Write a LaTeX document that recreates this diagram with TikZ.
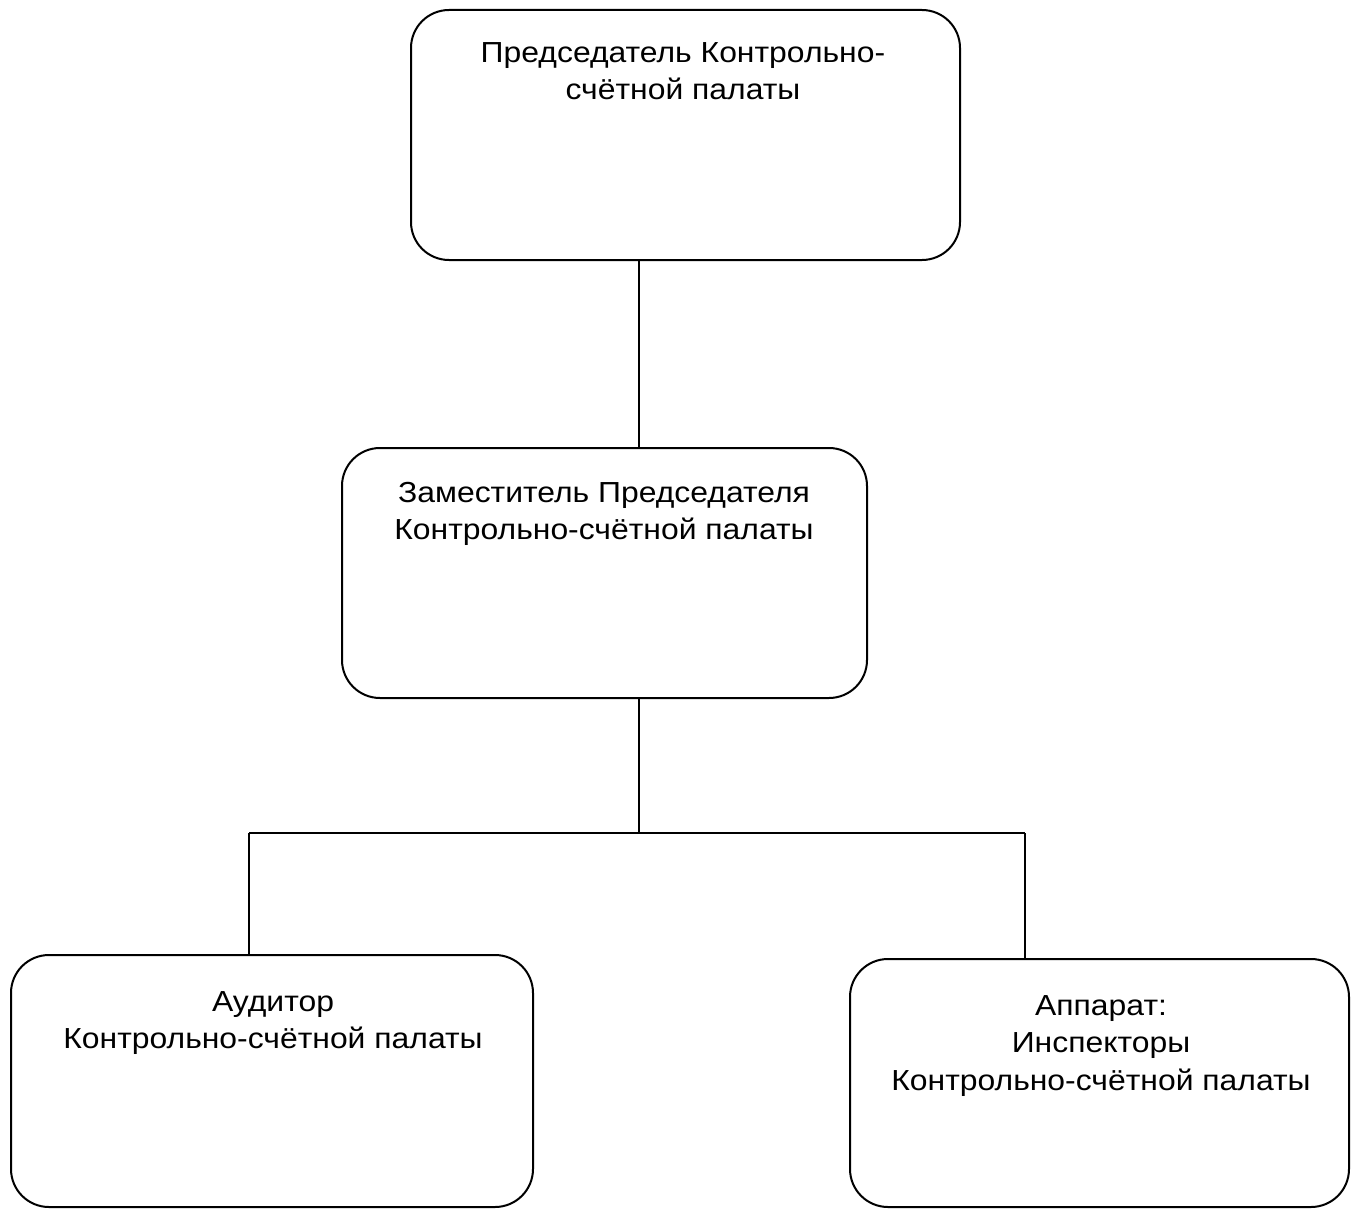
\documentclass[tikz,border=0pt]{standalone}
\usepackage{fontspec}
\setmainfont[FakeStretch=1.1]{Liberation Sans}
\begin{document}
\begin{tikzpicture}[x=1pt,y=-1pt,
  box/.style={draw=black, line width=2pt, rounded corners=38pt, rectangle, inner sep=0pt},
  txt/.style={align=center, inner sep=0pt, anchor=north, font=\fontsize{29}{37.5}\selectfont},
  conn/.style={draw=black, line width=1.3pt}]
\useasboundingbox (0,0) rectangle (1359,1209);
\node[box, minimum width=549pt, minimum height=250pt] (b1) at (685.5,135) {};
\node[box, minimum width=525pt, minimum height=250pt] (b2) at (604.5,573) {};
\node[box, minimum width=522pt, minimum height=252pt] (b3) at (272,1081) {};
\node[box, minimum width=499pt, minimum height=248pt] (b4) at (1099.5,1083) {};
\node[txt] (t1) at (683,42) {Председатель Контрольно-\\счётной палаты};
\node[txt] (t2) at (604,482) {Заместитель Председателя\\Контрольно-счётной палаты};
\node[txt] (t3) at (273,991) {Аудитор\\Контрольно-счётной палаты};
\node[txt] (t4) at (1101,995) {Аппарат:\\Инспекторы\\Контрольно-счётной палаты};
\coordinate (j) at (639,833);
\coordinate (l) at (249,833);
\coordinate (r) at (1025,833);
\draw[conn] (j |- b1.south) -- (j |- b2.north);
\draw[conn] (j |- b2.south) -- (j);
\draw[conn] (l) -- (r);
\draw[conn] (l) -- (l |- b3.north);
\draw[conn] (r) -- (r |- b4.north);
\end{tikzpicture}
\end{document}
